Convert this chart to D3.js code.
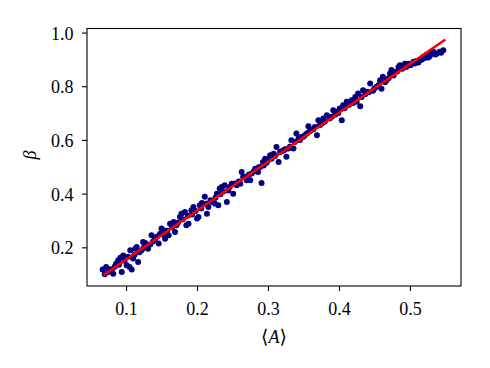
<!DOCTYPE html>
<html><head><meta charset="utf-8">
<script src="https://cdn.jsdelivr.net/npm/d3@7"></script>
<style>body{margin:0;background:#fff}svg{display:block}</style>
</head><body>
<svg id="c" width="490" height="368"></svg>
<script>
const xs = [0.067,0.072,0.075,0.080,0.082,0.086,0.089,0.092,0.094,0.096,0.101,0.105,0.108,0.106,0.110,0.113,0.115,0.117,0.122,0.124,0.127,0.131,0.134,0.136,0.141,0.146,0.148,0.150,0.153,0.155,0.160,0.162,0.167,0.169,0.171,0.176,0.178,0.183,0.185,0.188,0.192,0.195,0.200,0.202,0.204,0.207,0.211,0.214,0.216,0.221,0.225,0.228,0.230,0.232,0.235,0.239,0.242,0.244,0.249,0.251,0.256,0.261,0.263,0.265,0.270,0.275,0.277,0.282,0.286,0.289,0.291,0.293,0.296,0.300,0.303,0.308,0.312,0.315,0.317,0.322,0.326,0.329,0.333,0.336,0.340,0.343,0.347,0.352,0.357,0.361,0.366,0.369,0.371,0.376,0.378,0.383,0.390,0.392,0.397,0.401,0.404,0.406,0.411,0.418,0.423,0.425,0.427,0.430,0.434,0.439,0.444,0.448,0.453,0.458,0.460,0.462,0.467,0.472,0.474,0.479,0.484,0.486,0.493,0.498,0.505,0.509,0.514,0.519,0.523,0.526,0.530,0.533,0.538,0.542,0.547,
0.070,0.077,0.084,0.090,0.098,0.103,0.112,0.119,0.125,0.129,0.138,0.144,0.152,0.158,0.165,0.173,0.180,0.187,0.193,0.198,0.206,0.213,0.219,0.226,0.233,0.237,0.246,0.253,0.259,0.267,0.273,0.280,0.287,0.294,0.298,0.305,0.310,0.319,0.324,0.331,0.338,0.345,0.350,0.355,0.359,0.364,0.373,0.380,0.387,0.395,0.399,0.408,0.414,0.420,0.432,0.437,0.442,0.450,0.456,0.465,0.470,0.477,0.482,0.489,0.495,0.501,0.507,0.512,0.517,0.521,0.528,0.536,0.544];
const ys = [0.117,0.127,0.108,0.117,0.102,0.139,0.152,0.161,0.108,0.170,0.133,0.127,0.117,0.189,0.158,0.195,0.201,0.145,0.189,0.220,0.216,0.195,0.211,0.245,0.232,0.214,0.251,0.270,0.263,0.232,0.245,0.288,0.294,0.257,0.282,0.313,0.325,0.332,0.282,0.288,0.338,0.350,0.307,0.313,0.357,0.365,0.388,0.325,0.350,0.369,0.363,0.400,0.357,0.419,0.425,0.431,0.369,0.412,0.437,0.400,0.431,0.437,0.481,0.462,0.450,0.450,0.475,0.493,0.481,0.499,0.440,0.518,0.530,0.524,0.543,0.549,0.574,0.518,0.555,0.561,0.537,0.568,0.599,0.568,0.624,0.605,0.611,0.617,0.651,0.636,0.648,0.617,0.673,0.661,0.680,0.692,0.686,0.711,0.704,0.717,0.673,0.729,0.742,0.748,0.760,0.742,0.773,0.725,0.785,0.779,0.810,0.783,0.798,0.822,0.791,0.835,0.822,0.847,0.860,0.853,0.872,0.878,0.884,0.884,0.891,0.894,0.897,0.909,0.916,0.907,0.922,0.928,0.922,0.928,0.934,
0.100,0.118,0.128,0.135,0.150,0.165,0.172,0.182,0.198,0.205,0.222,0.240,0.248,0.262,0.275,0.292,0.305,0.318,0.322,0.335,0.345,0.362,0.375,0.385,0.398,0.408,0.425,0.438,0.445,0.462,0.470,0.482,0.498,0.505,0.515,0.530,0.540,0.558,0.565,0.575,0.592,0.600,0.612,0.625,0.632,0.640,0.655,0.668,0.680,0.695,0.700,0.718,0.730,0.738,0.760,0.770,0.778,0.792,0.805,0.815,0.830,0.840,0.855,0.865,0.872,0.878,0.885,0.888,0.900,0.905,0.912,0.918,0.925];
const fitX = [0.068, 0.550];
const fitY = [0.096, 0.974];
const xTicks = [0.1, 0.2, 0.3, 0.4, 0.5];
const yTicks = [0.2, 0.4, 0.6, 0.8, 1.0];
const xLabel = "A", yLabel = "β";

const L = 87, R = 461, T = 28.5, B = 286;
const svg = d3.select("#c");
const x = d3.scaleLinear().domain([0.045, 0.572]).range([L, R]);
const y = d3.scaleLinear().domain([0.056, 1.015]).range([B, T]);
const font = "'Liberation Serif', serif";

const pts = xs.map((v, i) => [v, ys[i]]);
svg.append("g").selectAll("circle").data(pts).join("circle")
  .attr("cx", d => x(d[0])).attr("cy", d => y(d[1])).attr("r", 3)
  .attr("fill", "#000080");

svg.append("path").datum(fitX.map((v, i) => [v, fitY[i]]))
  .attr("d", d3.line().x(d => x(d[0])).y(d => y(d[1])))
  .attr("stroke", "#ff0000").attr("stroke-width", 2.7).attr("fill", "none");

svg.append("rect").attr("x", L).attr("y", T).attr("width", R - L).attr("height", B - T)
  .attr("fill", "none").attr("stroke", "#000").attr("stroke-width", 1.1);

const gx = svg.append("g").attr("transform", `translate(0,${B})`)
  .call(d3.axisBottom(x).tickValues(xTicks).tickSize(5).tickFormat(d3.format(".1f")));
gx.select(".domain").remove();
gx.selectAll("line").attr("stroke-width", 1.1);
gx.selectAll("text").attr("y", 29).attr("dy", 0).attr("font-family", font).attr("font-size", 18).attr("fill", "#000");

const gy = svg.append("g").attr("transform", `translate(${L},0)`)
  .call(d3.axisLeft(y).tickValues(yTicks).tickSize(5).tickFormat(d3.format(".1f")));
gy.select(".domain").remove();
gy.selectAll("line").attr("stroke-width", 1.1);
gy.selectAll("text").attr("x", -13.5).attr("dy", "0.36em").attr("font-family", font).attr("font-size", 18).attr("fill", "#000");

const xl = svg.append("text").attr("x", (L + R) / 2).attr("y", 343).attr("text-anchor", "middle")
  .attr("font-family", font).attr("font-size", 18);
xl.append("tspan").attr("font-family", "'DejaVu Serif', serif").attr("font-size", 19).text("⟨");
xl.append("tspan").attr("font-style", "italic").text(xLabel);
xl.append("tspan").attr("font-family", "'DejaVu Serif', serif").attr("font-size", 19).text("⟩");

svg.append("text").attr("transform", "translate(36,155) rotate(-90)").attr("text-anchor", "middle")
  .attr("font-family", font).attr("font-style", "italic").attr("font-size", 18).text(yLabel);
</script>
</body></html>
